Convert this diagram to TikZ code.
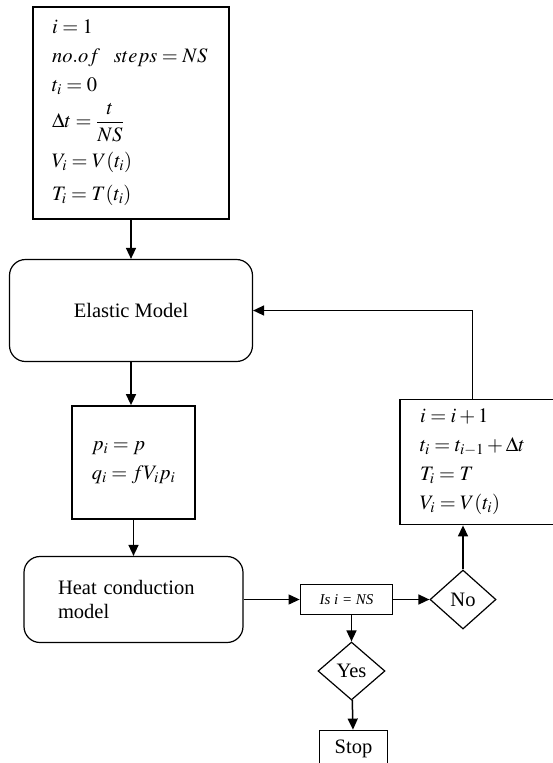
\documentclass[tikz,border=0pt]{standalone}
\usepackage{amsmath}
\usepackage{mathptmx}
\usepackage{fontspec}
\setmainfont{Liberation Serif}
\usetikzlibrary{positioning, arrows.meta, shapes.geometric}
\tikzset{
    >={Triangle[length=11pt,width=10pt]},           % Filled triangle heads
    every node/.style={font=\fontsize{20.5}{29}\selectfont},
    flow/.style={->, line width=1.5pt},             % Connectors of the flow chart
    calcbox/.style={draw, line width=1.8pt, inner xsep=20pt, align=left},
    modelbox/.style={draw, line width=1.2pt, rounded corners=16pt},
    decision/.style={draw, diamond, line width=1.2pt, inner sep=0pt,
                     minimum width=66pt, minimum height=59pt}
}
\begin{document}
\begin{tikzpicture}[x=1pt, y=-1pt]
    \useasboundingbox (0,0) rectangle (553,763);
    \clip (0,0) rectangle (553,763);

    \node [calcbox, text width=158pt, inner xsep=19pt, minimum height=212pt] (init) at (131,113)
        {$i=1$\\ $no.of\ \ steps=NS$\\ $t_i=0$\\[7pt] $\Delta t=\dfrac{t}{NS}$\\[9pt] $V_i=V(t_i)$\\[4pt] $T_i=T(t_i)$};
    \node [modelbox, minimum width=243pt, minimum height=102pt, below=39pt of init] (elastic) {Elastic Model};
    \node [calcbox, minimum width=116pt, minimum height=113pt, below=43pt of elastic, xshift=2.5pt] (force)
        {$p_i=p$\\ $q_i=fV_ip_i$};
    \node [modelbox, minimum height=86pt, below=36pt of force, inner xsep=34pt, text width=151pt,
           align=left, font=\fontsize{20.5}{24}\selectfont] (heat) {Heat conduction\\model};
    \node [draw, line width=1.8pt, minimum width=92pt, minimum height=30pt, inner sep=0pt,
           right=56pt of heat, font=\itshape\fontsize{15}{17}\selectfont] (check) {Is i = NS};
    \node [decision, right=36pt of check] (no) {No};
    \node [decision, minimum width=67pt, minimum height=58pt, below=26pt of check, xshift=5pt] (yes) {Yes};
    \node [draw, line width=1.8pt, minimum width=68pt, minimum height=36pt, below=29pt of yes, xshift=2pt] (stop) {Stop};
    \node [calcbox, text width=119pt, minimum height=125pt, above=44pt of no, xshift=16.5pt] (update)
        {$i=i+1$\\ $t_i=t_{i-1}+\Delta t$\\ $T_i=T$\\ $V_i=V(t_i)$};

    \draw [flow] (init.south) -- (init.south |- elastic.north);
    \draw [flow] (elastic.south) -- (elastic.south |- force.north);
    \draw [flow] (force) -- (heat);
    \draw [flow, line width=1pt] (heat) -- (check);
    \draw [flow] (check) -- (no);
    \draw [flow] (no) -- (no |- update.south);
    \draw [flow] ([xshift=-7pt]update.north) |- (elastic);
    \draw [flow] (check.south -| yes) -- (yes);
    \draw [flow] (yes) -- (stop);
\end{tikzpicture}
\end{document}
